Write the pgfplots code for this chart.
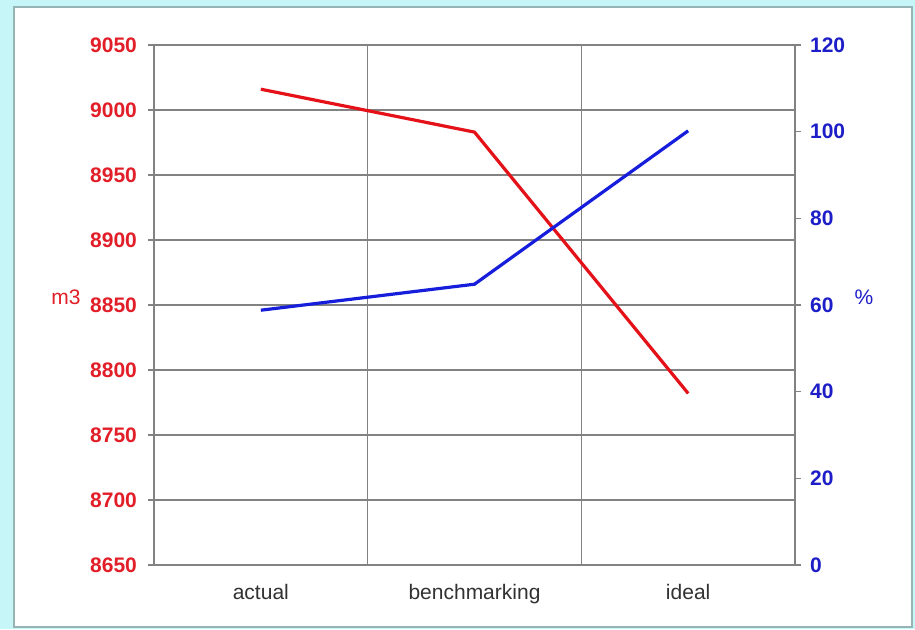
\documentclass[border=0pt]{standalone}
\usepackage{pgfplots}
\pgfplotsset{compat=1.18}
\usepackage{fontspec}
\setmainfont{Liberation Sans}

\definecolor{bgcyan}{RGB}{198,246,248}
\definecolor{panelline}{RGB}{150,180,180}
\definecolor{gridgray}{RGB}{130,130,130}
\definecolor{linered}{RGB}{228,18,24}
\definecolor{lineblue}{RGB}{22,30,220}
\definecolor{tickred}{RGB}{226,30,40}
\definecolor{tickblue}{RGB}{30,30,200}
\definecolor{catgray}{RGB}{50,50,50}

\pgfplotsset{
  common/.style={
    at={(77pt,32pt)}, anchor=south west,
    scale only axis, width=320.5pt, height=260pt,
    xmin=0.5, xmax=3.5,
    tick align=outside,
    major tick length=3pt,
    axis line style={gridgray, line width=0.7pt},
    tick style={gridgray, line width=0.7pt},
    /pgf/number format/assume math mode=true,
    /pgf/number format/1000 sep={},
    tick label style={font=\fontsize{10.5}{12}\selectfont},
  },
}

\begin{document}
\begin{tikzpicture}
\fill[bgcyan] (0,0) rectangle (457.5pt,314.5pt);
\filldraw[fill=white, draw=panelline, line width=0.8pt] (7pt,1pt) rectangle (456pt,311pt);

% left axis: volume in m3
\begin{axis}[common,
  ymin=8650, ymax=9050,
  ytick={8650,8700,...,9050},
  ytick pos=left,
  xtick={1,2,3},
  xticklabels={actual,benchmarking,ideal},
  xtick pos=bottom,
  major x tick style={draw=none},
  extra x ticks={0.5,1.5,2.5,3.5},
  extra x tick labels={},
  extra x tick style={xmajorgrids=true, major tick length=4pt},
  ymajorgrids,
  grid style={gridgray, line width=0.7pt},
  yticklabel style={font=\fontsize{10.5}{12}\selectfont\bfseries, text=tickred, xshift=-2pt},
  xticklabel style={text=catgray, yshift=-3pt},
]
\addplot[linered, line width=1.6pt] coordinates {(1,9016) (2,8983) (3,8782)};
\end{axis}

% right axis: percentage
\begin{axis}[common,
  axis x line=none,
  axis y line*=right,
  ymin=0, ymax=120,
  ytick={0,20,...,120},
  yticklabel style={font=\fontsize{10.5}{12}\selectfont\bfseries, text=tickblue, xshift=1pt},
]
\addplot[lineblue, line width=1.6pt] coordinates {(1,58.8) (2,64.8) (3,100.2)};
\end{axis}

\node[text=tickred, font=\fontsize{10.5}{12}\selectfont] at (33pt,166pt) {m3};
\node[text=tickblue, font=\fontsize{10.5}{12}\selectfont] at (432pt,166pt) {\%};
\end{tikzpicture}
\end{document}
